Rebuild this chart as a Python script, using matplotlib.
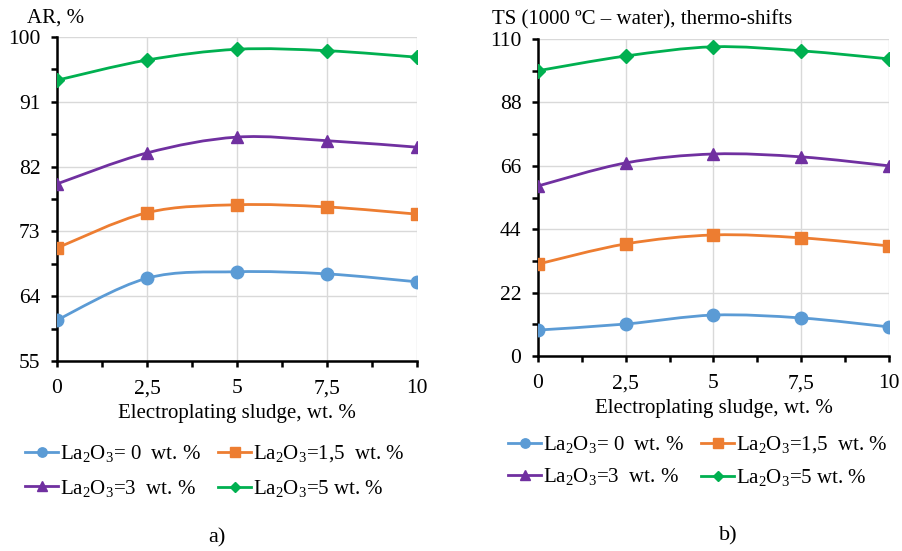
import matplotlib.pyplot as plt
import numpy as np
from matplotlib.path import Path
from matplotlib.patches import PathPatch
from matplotlib.lines import Line2D
from matplotlib.ticker import FixedLocator

plt.rcParams["font.family"] = ["Liberation Serif", "DejaVu Serif"]
plt.rcParams["mathtext.fontset"] = "custom"
plt.rcParams["mathtext.rm"] = "Liberation Serif"
plt.rcParams["mathtext.it"] = "Liberation Serif"

sludge = [0, 2.5, 5, 7.5, 10]
x_labels = ["0", "2,5", "5", "7,5", "10"]

series_labels = ["La$_2$O$_3$= 0  wt. %", "La$_2$O$_3$=1,5  wt. %",
                 "La$_2$O$_3$=3  wt. %", "La$_2$O$_3$=5 wt. %"]
colors = ["#5B9BD5", "#ED7D31", "#7030A0", "#00B050"]
markers = ["o", "s", "^", "D"]
msizes = [9, 9, 9, 7]

# a) AR, %
ar_0 = [60.7, 66.5, 67.4, 67.1, 66.0]
ar_15 = [70.7, 75.6, 76.7, 76.4, 75.4]
ar_3 = [79.6, 83.9, 86.1, 85.6, 84.7]
ar_5 = [94.0, 96.8, 98.3, 98.1, 97.2]

# b) TS, thermo-shifts
ts_0 = [9.0, 11.1, 14.2, 13.2, 10.1]
ts_15 = [31.9, 38.9, 42.0, 41.0, 38.2]
ts_3 = [59.0, 67.0, 70.1, 69.1, 66.0]
ts_5 = [99.0, 104.1, 107.3, 105.9, 103.1]


def smooth_path(x, y):
    # bezier through the points, like Excel's smoothed line
    x = np.asarray(x, float)
    y = np.asarray(y, float)
    n = len(x)
    verts = [(x[0], y[0])]
    codes = [Path.MOVETO]
    for i in range(n - 1):
        x0, y0 = (x[i - 1], y[i - 1]) if i > 0 else (x[i], y[i])
        x3, y3 = (x[i + 2], y[i + 2]) if i + 2 < n else (x[i + 1], y[i + 1])
        c1 = (x[i] + (x[i + 1] - x0) / 6, y[i] + (y[i + 1] - y0) / 6)
        c2 = (x[i + 1] - (x3 - x[i]) / 6, y[i + 1] - (y3 - y[i]) / 6)
        verts += [c1, c2, (x[i + 1], y[i + 1])]
        codes += [Path.CURVE4] * 3
    return Path(verts, codes)


def draw_panel(ax, data, ymin, ymax, ystep, legend_xy, legend_sp):
    for vals, c, m, ms in zip(data, colors, markers, msizes):
        ax.add_patch(PathPatch(smooth_path(sludge, vals), facecolor="none",
                               edgecolor=c, lw=2.0, zorder=3))
        ax.plot(sludge, vals, ls="none", marker=m, ms=ms, color=c, zorder=4)
    ax.set_xlim(0, 10)
    ax.set_ylim(ymin, ymax)
    ax.set_xticks(sludge)
    ax.set_xticklabels(x_labels)
    ax.xaxis.set_minor_locator(FixedLocator([1.25, 3.75, 6.25, 8.75]))
    ax.yaxis.set_major_locator(FixedLocator(np.arange(ymin, ymax + 1, ystep)))
    ax.yaxis.set_minor_locator(FixedLocator(np.arange(ymin + ystep / 2, ymax, ystep)))
    ax.grid(True, which="major", color="#d9d9d9", lw=1.0)
    ax.set_axisbelow(True)
    for s in ["top", "right"]:
        ax.spines[s].set_visible(False)
    for s in ["left", "bottom"]:
        ax.spines[s].set_linewidth(1.8)
    ax.tick_params(which="both", direction="out", width=1.8, length=4,
                   labelsize=15.5)
    ax.tick_params(axis="y", pad=8)
    ax.tick_params(axis="x", pad=9)
    ax.set_xlabel("Electroplating sludge, wt. %", fontsize=15, labelpad=4)
    handles = [Line2D([], [], color=c, marker=m, ms=ms * 0.75, lw=2.0)
               for c, m, ms in zip(colors, markers, msizes)]
    order = [0, 2, 1, 3]
    fig.legend([handles[i] for i in order], [series_labels[i] for i in order],
               ncol=2, frameon=False, fontsize=15, loc="upper left",
               bbox_to_anchor=legend_xy, borderpad=0, borderaxespad=0,
               handlelength=1.6, handletextpad=0.1, columnspacing=0.8,
               labelspacing=legend_sp)


fig = plt.figure(figsize=(9.02, 5.51), dpi=100)
ax1 = fig.add_axes([0.0632, 0.3448, 0.399, 0.588])
ax2 = fig.add_axes([0.5965, 0.3539, 0.389, 0.5753])

draw_panel(ax1, [ar_0, ar_15, ar_3, ar_5], 55, 100, 9,
           (25 / 902, 1 - 443 / 551), 0.65)
draw_panel(ax2, [ts_0, ts_15, ts_3, ts_5], 0, 110, 22,
           (508 / 902, 1 - 434 / 551), 0.55)

fig.text(27 / 902, 1 - 18 / 551, "AR, %", fontsize=15, va="center", ha="left")
fig.text(492 / 902, 1 - 20 / 551, "TS (1000 ºC – water), thermo-shifts",
         fontsize=15, va="center", ha="left")
fig.text(217 / 902, 1 - 538 / 551, "a)", fontsize=16, ha="center", va="center")
fig.text(728 / 902, 1 - 536 / 551, "b)", fontsize=16, ha="center", va="center")

fig.savefig("out.png", dpi=100)
